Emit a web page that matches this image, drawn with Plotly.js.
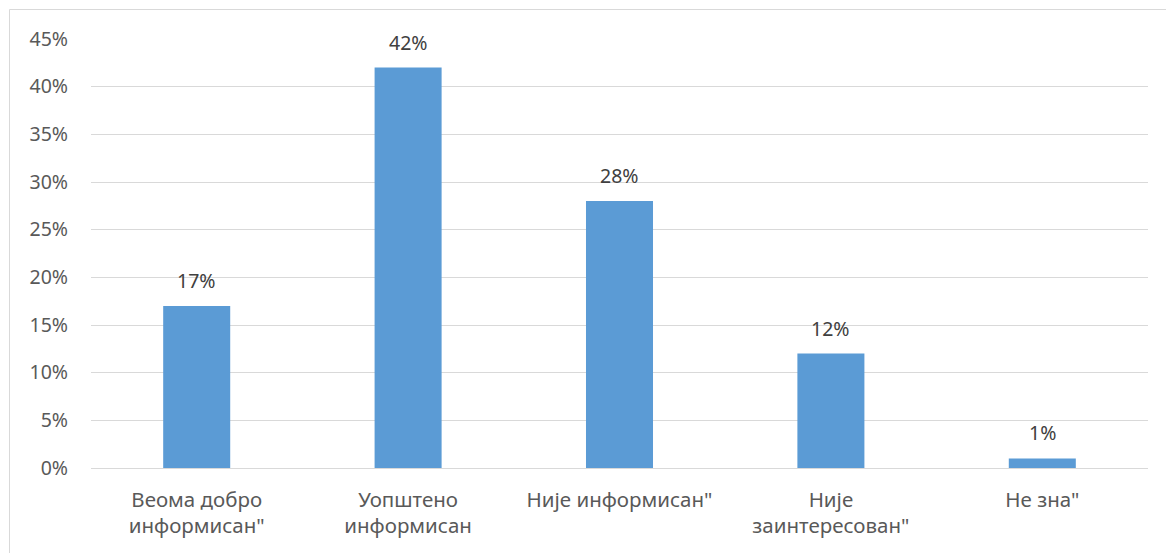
<!DOCTYPE html>
<html>
<head>
<meta charset="utf-8">
<script src="https://cdn.plot.ly/plotly-3.0.1.min.js"></script>
<style>
  html, body { margin: 0; padding: 0; background: #fff; }
  #chart { width: 1166px; height: 553px; }
</style>
</head>
<body>
<div id="chart"></div>
<script>
// Categories and shares (percent)
const categories = [
  'Веома добро<br>информисан"',
  'Уопштено<br>информисан',
  'Није информисан"',
  'Није<br>заинтересован"',
  'Не зна"'
];
const shares = [17, 42, 28, 12, 1];
const yTickValues = [0, 5, 10, 15, 20, 25, 30, 35, 40, 45];
const yTickLabels = ['0%', '5%', '10%', '15%', '20%', '25%', '30%', '35%', '40%', '45%'];

const FONT = '"Noto Sans", "Open Sans", sans-serif';

const trace = {
  type: 'bar',
  x: categories,
  y: shares,
  marker: { color: '#5B9BD5' },
  width: 0.317,
  hoverinfo: 'skip'
};

const labels = categories.map((c, i) => ({
  x: c,
  y: shares[i],
  xref: 'x',
  yref: 'y',
  text: shares[i] + '%',
  showarrow: false,
  yanchor: 'bottom',
  yshift: 10,
  font: { family: FONT, size: 19.5, color: '#404040' }
}));

const layout = {
  width: 1166,
  height: 553,
  margin: { l: 91, r: 18, t: 39, b: 85 },
  paper_bgcolor: '#ffffff',
  plot_bgcolor: '#ffffff',
  showlegend: false,
  bargap: 0.683,
  font: { family: FONT, size: 19, color: '#595959' },
  xaxis: {
    type: 'category',
    showgrid: false,
    showline: false,
    zeroline: false,
    ticks: '',
    tickfont: { family: FONT, size: 20.5, color: '#595959' },
    ticklabelstandoff: 17
  },
  yaxis: {
    range: [0, 45],
    tickvals: yTickValues,
    ticktext: yTickLabels,
    showgrid: true,
    gridcolor: '#d9d9d9',
    gridwidth: 1,
    zeroline: true,
    zerolinecolor: '#d9d9d9',
    zerolinewidth: 1,
    showline: false,
    ticks: '',
    tickfont: { family: FONT, size: 19.5, color: '#595959' },
    ticklabelstandoff: 22
  },
  annotations: labels,
  shapes: [{
    type: 'rect',
    xref: 'paper', yref: 'paper',
    x0: (9.5 - 91) / 1057, x1: 1.1,
    y0: -0.25, y1: (468 - 9.5) / 429,
    line: { color: '#d9d9d9', width: 1 },
    fillcolor: 'rgba(0,0,0,0)',
    layer: 'below'
  }]
};

Plotly.newPlot('chart', [trace], layout, { displayModeBar: false, staticPlot: true });
</script>
</body>
</html>
